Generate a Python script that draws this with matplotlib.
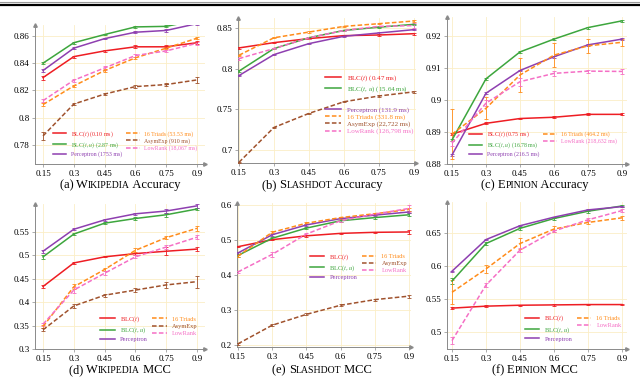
import matplotlib
matplotlib.use("Agg")
import matplotlib.pyplot as plt
from matplotlib.lines import Line2D
from matplotlib.offsetbox import TextArea, HPacker, AnnotationBbox

plt.rcParams["font.family"] = ["Liberation Serif", "DejaVu Serif"]
plt.rcParams["mathtext.fontset"] = "stix"

# ---- data -------------------------------------------------------------------
X = [0.15, 0.3, 0.45, 0.6, 0.75, 0.9]
XTICKS = ["0.15", "0.3", "0.45", "0.6", "0.75", "0.9"]

# (a) Wikipedia accuracy
WA_BLC_T = [0.8294, 0.8448, 0.849, 0.852, 0.852, 0.855]
WA_BLC_TU = [0.840, 0.855, 0.861, 0.8666, 0.867, 0.8715]
WA_PERC = [0.8346, 0.851, 0.858, 0.8627, 0.864, 0.869]
WA_TRIAD = [0.8096, 0.8233, 0.8346, 0.8439, 0.851, 0.8583]
WA_ASYM = [0.7866, 0.810, 0.8173, 0.8228, 0.8243, 0.8277]
WA_LOWR = [0.8125, 0.8275, 0.8365, 0.8456, 0.849, 0.8546]
WA_ERR_BLC_T = [0.0015, 0.0008, 0.0006, 0.001, 0.001, 0.0012]
WA_ERR_BLC_TU = [0.0005, 0.0006, 0.0006, 0.0006, 0.0008, 0.0008]
WA_ERR_PERC = [0.0008, 0.0006, 0.0006, 0.0006, 0.0008, 0.0008]
WA_ERR_TRIAD = [0.0008, 0.0008, 0.0008, 0.0008, 0.0008, 0.0008]
WA_ERR_ASYM = [0.003, 0.0006, 0.0006, 0.001, 0.0008, 0.002]
WA_ERR_LOWR = [0.001, 0.001, 0.0012, 0.001, 0.001, 0.0012]

# (b) Slashdot accuracy
SA_BLC_T = [0.8255, 0.832, 0.837, 0.8406, 0.8414, 0.843]
SA_BLC_TU = [0.797, 0.8247, 0.838, 0.847, 0.851, 0.8545]
SA_PERC = [0.7915, 0.8173, 0.8308, 0.8398, 0.8439, 0.848]
SA_TRIAD = [0.8165, 0.838, 0.845, 0.852, 0.8553, 0.8586]
SA_ASYM = [0.6848, 0.7277, 0.745, 0.7593, 0.7664, 0.7715]
SA_LOWR = [0.8124, 0.8247, 0.838, 0.847, 0.852, 0.853]
SA_ERR = [0.0008, 0.0008, 0.0008, 0.0008, 0.0008, 0.001]
SA_ERR_LOWR = [0.0012, 0.001, 0.001, 0.001, 0.001, 0.003]

# (c) Epinion accuracy
EA_BLC_T = [0.8893, 0.8927, 0.8942, 0.8946, 0.8955, 0.8955]
EA_BLC_TU = [0.8875, 0.9066, 0.915, 0.919, 0.9226, 0.9247]
EA_PERC = [0.8828, 0.9021, 0.9092, 0.9135, 0.9172, 0.919]
EA_TRIAD = [0.8893, 0.8974, 0.9078, 0.914, 0.9169, 0.918]
EA_LOWR = [0.8865, 0.899, 0.9057, 0.9083, 0.909, 0.9089]
EA_ERR = [0.0003, 0.0003, 0.0003, 0.0003, 0.0003, 0.0003]
EA_ERR_TRIAD = [0.0078, 0.0035, 0.0053, 0.0037, 0.0022, 0.001]
EA_ERR_LOWR = [0.0008, 0.001, 0.0012, 0.0008, 0.0005, 0.0008]

# (d) Wikipedia MCC
WM_BLC_T = [0.4336, 0.484, 0.497, 0.504, 0.509, 0.5136]
WM_BLC_TU = [0.497, 0.5457, 0.569, 0.579, 0.587, 0.5993]
WM_PERC = [0.509, 0.556, 0.576, 0.589, 0.595, 0.606]
WM_TRIAD = [0.348, 0.433, 0.47, 0.511, 0.538, 0.558]
WM_ASYM = [0.341, 0.392, 0.415, 0.426, 0.437, 0.444]
WM_LOWR = [0.353, 0.426, 0.462, 0.497, 0.518, 0.539]
WM_ERR_BLC_T = [0.003, 0.002, 0.001, 0.002, 0.008, 0.005]
WM_ERR_BLC_TU = [0.004, 0.002, 0.002, 0.003, 0.004, 0.003]
WM_ERR_PERC = [0.003, 0.002, 0.002, 0.002, 0.004, 0.004]
WM_ERR_TRIAD = [0.004, 0.005, 0.003, 0.004, 0.003, 0.005]
WM_ERR_ASYM = [0.003, 0.005, 0.003, 0.004, 0.006, 0.013]
WM_ERR_LOWR = [0.003, 0.006, 0.004, 0.003, 0.004, 0.004]

# (e) Slashdot MCC
SM_BLC_T = [0.481, 0.501, 0.512, 0.519, 0.522, 0.523]
SM_BLC_TU = [0.456, 0.505, 0.534, 0.555, 0.564, 0.572]
SM_PERC = [0.463, 0.515, 0.543, 0.561, 0.571, 0.580]
SM_TRIAD = [0.454, 0.522, 0.548, 0.564, 0.575, 0.587]
SM_ASYM = [0.204, 0.257, 0.288, 0.314, 0.330, 0.340]
SM_LOWR = [0.409, 0.459, 0.517, 0.555, 0.574, 0.59]
SM_ERR = [0.003, 0.003, 0.003, 0.003, 0.003, 0.004]
SM_ERR_BLC_T = [0.002, 0.002, 0.002, 0.002, 0.002, 0.005]
SM_ERR_LOWR = [0.003, 0.008, 0.004, 0.003, 0.004, 0.01]

# (f) Epinion MCC
EM_BLC_T = [0.536, 0.539, 0.5404, 0.5409, 0.5414, 0.5414]
EM_BLC_TU = [0.577, 0.634, 0.657, 0.672, 0.683, 0.691]
EM_PERC = [0.592, 0.640, 0.661, 0.674, 0.685, 0.690]
EM_TRIAD = [0.560, 0.5955, 0.634, 0.656, 0.666, 0.673]
EM_LOWR = [0.4867, 0.571, 0.624, 0.653, 0.670, 0.684]
EM_ERR = [0.001, 0.001, 0.001, 0.001, 0.001, 0.001]
EM_ERR_BLC_TU = [0.005, 0.002, 0.002, 0.002, 0.002, 0.002]
EM_ERR_TRIAD = [0.018, 0.006, 0.008, 0.005, 0.003, 0.003]
EM_ERR_LOWR = [0.005, 0.003, 0.003, 0.002, 0.002, 0.002]

# ---- styles -----------------------------------------------------------------
STYLE = {
    "blc_t": ("#ee1d23", "-"),
    "blc_tu": ("#3da63d", "-"),
    "perc": ("#8e3fb0", "-"),
    "triad": ("#ff8c1a", "--"),
    "asym": ("#a0522d", "--"),
    "lowr": ("#f56fc5", "--"),
}
BLC_T = r"BLC($t$)"
BLC_TU = r"BLC($t$, $u$)"
W, H = 640, 381


def add_axes_px(fig, x0, x1, y0, y1):
    return fig.add_axes([x0 / W, 1 - y1 / H, (x1 - x0) / W, (y1 - y0) / H])


def style_axes(ax, xlim, ylim, yticks, ylabels):
    ax.set_xlim(*xlim)
    ax.set_ylim(*ylim)
    ax.set_xticks(X)
    ax.set_xticklabels(XTICKS)
    ax.set_yticks(yticks)
    ax.set_yticklabels(ylabels)
    for s in ("top", "right"):
        ax.spines[s].set_visible(False)
    for s in ("left", "bottom"):
        ax.spines[s].set_color("#8a8a8a")
        ax.spines[s].set_linewidth(0.7)
    ax.tick_params(labelsize=6.5, length=2, width=0.5, color="#8a8a8a", pad=2)
    ax.grid(color="#fbeec6", linewidth=0.6)
    ax.set_axisbelow(True)
    ax.plot(1, 0, ">", color="#8a8a8a", ms=2.5, transform=ax.transAxes, clip_on=False)
    ax.plot(0, 1, "^", color="#8a8a8a", ms=2.5, transform=ax.transAxes, clip_on=False)


def draw(ax, series):
    handles = {}
    for key, ys, errs, label in series:
        c, ls = STYLE[key]
        ax.errorbar(X, ys, yerr=errs, fmt="none", ecolor=c, elinewidth=0.6,
                    capsize=1.6, capthick=0.6, zorder=3)
        (ln,) = ax.plot(X, ys, color=c, ls=ls, lw=1.1,
                        dashes=(3, 1.5) if ls == "--" else (None, None), zorder=4,
                        label=label)
        handles[key] = ln
    return handles


def legend(ax, handles, keys, ncol, loc, anchor, size, spacing=0.25):
    lg = ax.legend([handles[k] for k in keys], [handles[k].get_label() for k in keys],
                   ncol=ncol, loc=loc, bbox_to_anchor=anchor, frameon=False,
                   fontsize=size, borderpad=0, borderaxespad=0, handlelength=2.3,
                   handletextpad=0.8, columnspacing=0.7, labelspacing=spacing)
    for t, k in zip(lg.get_texts(), keys):
        t.set_color(STYLE[k][0])
    return lg


def caption(fig, xpx, ypx, tag, first, rest, tail):
    fam = ["Liberation Serif"]
    parts = [TextArea(tag + " ", textprops=dict(fontsize=9, family=fam)),
             TextArea(first, textprops=dict(fontsize=9, family=fam)),
             TextArea(rest, textprops=dict(fontsize=7, family=fam)),
             TextArea(" " + tail, textprops=dict(fontsize=9, family=fam))]
    box = HPacker(children=parts, align="baseline", pad=0, sep=0)
    ab = AnnotationBbox(box, (xpx / W, 1 - ypx / H), xycoords="figure fraction",
                        frameon=False, box_alignment=(0.5, 0.5))
    fig.add_artist(ab)


fig = plt.figure(figsize=(6.4, 3.81), dpi=100)

# top page rules
fig.add_artist(Line2D([0, 1], [1 - 2 / H, 1 - 2 / H], color="#9a9a9a", lw=0.8))
fig.add_artist(Line2D([0, 1], [1 - 4.5 / H, 1 - 4.5 / H], color="black", lw=1.6))

# (a)
ax = add_axes_px(fig, 35, 205, 25, 164)
h = draw(ax, [
    ("blc_t", WA_BLC_T, WA_ERR_BLC_T, BLC_T + " (0.10 ms)"),
    ("blc_tu", WA_BLC_TU, WA_ERR_BLC_TU, BLC_TU + " (2.87 ms)"),
    ("perc", WA_PERC, WA_ERR_PERC, "Perceptron (1753 ms)"),
    ("triad", WA_TRIAD, WA_ERR_TRIAD, "16 Triads (53.53 ms)"),
    ("asym", WA_ASYM, WA_ERR_ASYM, "AsymExp (910 ms)"),
    ("lowr", WA_LOWR, WA_ERR_LOWR, "LowRank (18,067 ms)"),
])
style_axes(ax, (0.111, 0.939), (0.766, 0.868),
           [0.78, 0.8, 0.82, 0.84, 0.86], ["0.78", "0.8", "0.82", "0.84", "0.86"])
legend(ax, h, ["blc_t", "blc_tu", "perc", "triad", "asym", "lowr"], 2,
       "lower right", (0.955, 0.05), 4.2)
caption(fig, 120, 185, "(a)", "W", "IKIPEDIA", "Accuracy")

# (b)
ax = add_axes_px(fig, 238, 416, 18, 163)
h = draw(ax, [
    ("blc_t", SA_BLC_T, SA_ERR, BLC_T + " (0.47 ms)"),
    ("blc_tu", SA_BLC_TU, SA_ERR, BLC_TU + " (15.64 ms)"),
    ("perc", SA_PERC, SA_ERR, "Perceptron (131.9 ms)"),
    ("triad", SA_TRIAD, SA_ERR, "16 Triads (331.8 ms)"),
    ("asym", SA_ASYM, SA_ERR, "AsymExp (22,722 ms)"),
    ("lowr", SA_LOWR, SA_ERR_LOWR, "LowRank (126,798 ms)"),
])
style_axes(ax, (0.146, 0.909), (0.684, 0.8623),
           [0.7, 0.75, 0.8, 0.85], ["0.7", "0.75", "0.8", "0.85"])
lg1 = legend(ax, h, ["blc_t", "blc_tu"], 1, "upper left", (0.49, 0.62), 5)
ax.add_artist(lg1)
legend(ax, h, ["perc", "triad", "asym", "lowr"], 1, "upper left", (0.49, 0.39), 5, 0.15)
caption(fig, 322, 185, "(b)", "S", "LASHDOT", "Accuracy")

# (c)
ax = add_axes_px(fig, 447, 627, 17, 164)
h = draw(ax, [
    ("blc_t", EA_BLC_T, EA_ERR, BLC_T + " (0.75 ms)"),
    ("blc_tu", EA_BLC_TU, EA_ERR, BLC_TU + " (16.78 ms)"),
    ("perc", EA_PERC, EA_ERR, "Perceptron (216.5 ms)"),
    ("triad", EA_TRIAD, EA_ERR_TRIAD, "16 Triads (464.2 ms)"),
    ("lowr", EA_LOWR, EA_ERR_LOWR, "LowRank (218,632 ms)"),
])
style_axes(ax, (0.128, 0.922), (0.88, 0.9259),
           [0.88, 0.89, 0.9, 0.91, 0.92], ["0.88", "0.89", "0.9", "0.91", "0.92"])
legend(ax, h, ["blc_t", "blc_tu", "perc", "triad", "lowr"], 2,
       "lower left", (0.12, 0.045), 4.2)
caption(fig, 535, 185, "(c)", "E", "PINION", "Accuracy")

# (d)
ax = add_axes_px(fig, 35, 205, 204, 349)
h = draw(ax, [
    ("blc_t", WM_BLC_T, WM_ERR_BLC_T, BLC_T),
    ("blc_tu", WM_BLC_TU, WM_ERR_BLC_TU, BLC_TU),
    ("perc", WM_PERC, WM_ERR_PERC, "Perceptron"),
    ("triad", WM_TRIAD, WM_ERR_TRIAD, "16 Triads"),
    ("asym", WM_ASYM, WM_ERR_ASYM, "AsymExp"),
    ("lowr", WM_LOWR, WM_ERR_LOWR, "LowRank"),
])
style_axes(ax, (0.111, 0.939), (0.3, 0.61),
           [0.3, 0.35, 0.4, 0.45, 0.5, 0.55], ["0.3", "0.35", "0.4", "0.45", "0.5", "0.55"])
legend(ax, h, ["blc_t", "blc_tu", "perc", "triad", "asym", "lowr"], 2,
       "lower right", (0.955, 0.045), 4.6)
caption(fig, 120, 370, "(d)", "W", "IKIPEDIA", "MCC")

# (e)
ax = add_axes_px(fig, 237, 411, 203, 347)
h = draw(ax, [
    ("blc_t", SM_BLC_T, SM_ERR_BLC_T, BLC_T),
    ("blc_tu", SM_BLC_TU, SM_ERR, BLC_TU),
    ("perc", SM_PERC, SM_ERR, "Perceptron"),
    ("triad", SM_TRIAD, SM_ERR, "16 Triads"),
    ("asym", SM_ASYM, SM_ERR, "AsymExp"),
    ("lowr", SM_LOWR, SM_ERR_LOWR, "LowRank"),
])
style_axes(ax, (0.146, 0.909), (0.195, 0.6056),
           [0.2, 0.3, 0.4, 0.5, 0.6], ["0.2", "0.3", "0.4", "0.5", "0.6"])
legend(ax, h, ["blc_t", "blc_tu", "perc", "triad", "asym", "lowr"], 2,
       "upper right", (0.977, 0.66), 4.6)
caption(fig, 322, 370, "(e)", "S", "LASHDOT", "MCC")

# (f)
ax = add_axes_px(fig, 447, 627, 202, 349)
h = draw(ax, [
    ("blc_t", EM_BLC_T, EM_ERR, BLC_T),
    ("blc_tu", EM_BLC_TU, EM_ERR_BLC_TU, BLC_TU),
    ("perc", EM_PERC, EM_ERR, "Perceptron"),
    ("triad", EM_TRIAD, EM_ERR_TRIAD, "16 Triads"),
    ("lowr", EM_LOWR, EM_ERR_LOWR, "LowRank"),
])
style_axes(ax, (0.128, 0.922), (0.474, 0.697),
           [0.5, 0.55, 0.6, 0.65], ["0.5", "0.55", "0.6", "0.65"])
legend(ax, h, ["blc_t", "blc_tu", "perc", "triad", "lowr"], 2,
       "lower right", (0.97, 0.05), 4.6)
caption(fig, 535, 370, "(f)", "E", "PINION", "MCC")

fig.savefig("out.png", dpi=100)
